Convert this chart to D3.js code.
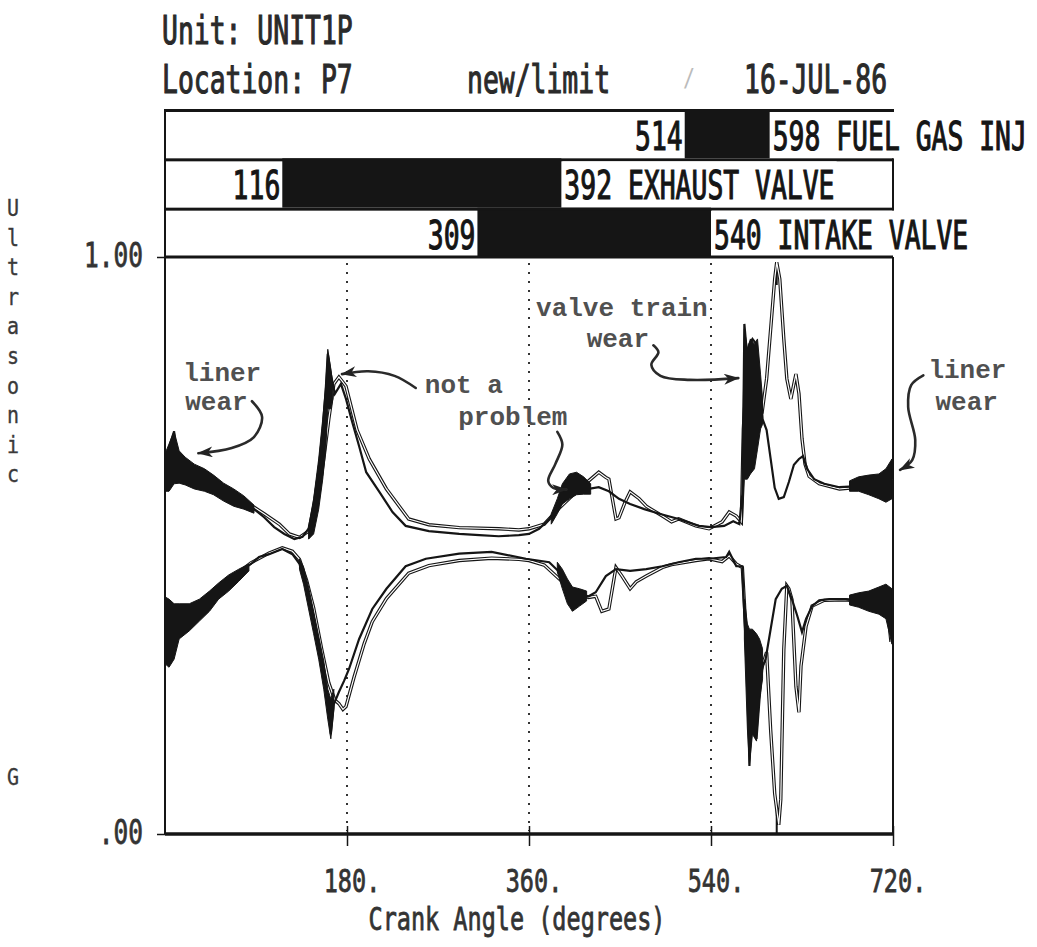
<!DOCTYPE html>
<html><head><meta charset="utf-8">
<script src="https://cdn.jsdelivr.net/npm/d3@7"></script>
<style>body{margin:0;background:#fff}svg{display:block}</style>
</head><body>
<svg id="chart" width="1037" height="947"></svg>
<script>
// ---------------- data ----------------
const headerLeft = ["Unit: UNIT1P", "Location: P7"];
const headerMid = "new/limit";
const headerDate = "16-JUL-86";
const yAxisTitle = "Ultrasonic";
const yAxisUnit = "G";
const xAxisTitle = "Crank Angle (degrees)";

const valveEvents = ["FUEL GAS INJ", "EXHAUST VALVE", "INTAKE VALVE"];
const eventStart = [514, 116, 309];
const eventEnd = [598, 392, 540];

const xTicks = [180, 360, 540, 720];
const xTickLabels = ["180.", "360.", "540.", "720."];
const yTicks = [0, 1];
const yTickLabels = [".00", "1.00"];
const guideAngles = [180, 360, 540];
const cursorAngle = 605;

// [crank angle, ultrasonic G]
const upperNew = [[0,0.633],[5,0.676],[9,0.698],[12,0.646],[20,0.636],[29,0.624],[39,0.615],[48,0.607],[58,0.594],[68,0.584],[78,0.575],[88,0.563],[98,0.549],[108,0.532],[118,0.520],[128,0.511],[136,0.515],[142,0.529],[147,0.572],[152,0.633],[156,0.702],[159,0.771],[161,0.832],[164,0.797],[168,0.763],[174,0.780],[179,0.754],[185,0.715],[192,0.672],[199,0.627],[212,0.593],[225,0.558],[238,0.534],[261,0.525],[291,0.520],[311,0.518],[330,0.516],[350,0.518],[360,0.520],[370,0.529],[380,0.546],[390,0.572],[400,0.598],[410,0.603],[419,0.598],[429,0.601],[439,0.594],[449,0.581],[460,0.572],[474,0.563],[489,0.555],[508,0.546],[528,0.534],[540,0.532],[553,0.534],[562,0.542],[568,0.537],[571,0.589],[572,0.719],[573,0.884],[576,0.823],[578,0.849],[581,0.858],[585,0.849],[588,0.789],[591,0.719],[595,0.700],[599,0.650],[603,0.600],[607,0.581],[612,0.584],[617,0.610],[622,0.640],[627,0.650],[631,0.655],[635,0.633],[642,0.615],[652,0.607],[667,0.601],[686,0.603],[701,0.607],[711,0.612],[716,0.620],[719,0.633]];

const upperLimit = [[0,0.636],[20,0.634],[34,0.619],[58,0.596],[78,0.578],[98,0.555],[113,0.537],[123,0.520],[133,0.514],[142,0.525],[150,0.563],[157,0.650],[162,0.719],[167,0.780],[172,0.792],[176,0.783],[179,0.776],[190,0.700],[202,0.650],[219,0.598],[241,0.546],[261,0.536],[291,0.531],[330,0.529],[350,0.527],[360,0.529],[375,0.537],[390,0.565],[405,0.590],[419,0.612],[429,0.627],[436,0.618],[439,0.615],[446,0.546],[449,0.548],[455,0.575],[460,0.593],[469,0.581],[476,0.568],[492,0.551],[501,0.541],[508,0.546],[525,0.534],[538,0.529],[551,0.541],[558,0.558],[565,0.551],[570,0.541],[572,0.702],[575,0.790],[580,0.780],[586,0.754],[591,0.737],[595,0.789],[599,0.875],[603,0.962],[605,0.991],[608,0.962],[612,0.858],[615,0.789],[619,0.754],[622,0.780],[624,0.797],[627,0.763],[630,0.685],[633,0.641],[637,0.620],[647,0.607],[667,0.598],[686,0.601],[706,0.603],[719,0.615]];

const lowerNew = [[0,0.381],[4,0.335],[6,0.345],[9,0.365],[14,0.373],[20,0.380],[27,0.378],[34,0.386],[44,0.407],[53,0.421],[60,0.437],[68,0.445],[76,0.459],[85,0.468],[93,0.480],[103,0.485],[116,0.494],[126,0.485],[133,0.468],[137,0.445],[142,0.407],[147,0.364],[152,0.321],[157,0.277],[162,0.225],[164,0.173],[167,0.225],[172,0.246],[177,0.265],[182,0.286],[192,0.338],[205,0.390],[219,0.425],[238,0.464],[258,0.477],[291,0.486],[323,0.489],[357,0.477],[380,0.471],[390,0.454],[400,0.412],[403,0.390],[412,0.412],[419,0.412],[426,0.419],[436,0.447],[446,0.459],[460,0.456],[476,0.459],[492,0.464],[508,0.471],[525,0.477],[538,0.477],[555,0.480],[558,0.489],[565,0.464],[571,0.464],[573,0.378],[576,0.269],[578,0.118],[581,0.234],[585,0.165],[588,0.234],[591,0.291],[594,0.303],[599,0.355],[604,0.407],[610,0.425],[615,0.430],[620,0.407],[625,0.380],[630,0.350],[634,0.373],[640,0.395],[647,0.405],[657,0.407],[673,0.407],[689,0.402],[703,0.407],[713,0.420],[716,0.400],[719,0.333]];

const lowerLimit = [[0,0.384],[20,0.382],[34,0.392],[53,0.425],[68,0.447],[85,0.470],[103,0.487],[116,0.496],[126,0.490],[133,0.476],[140,0.440],[147,0.392],[155,0.320],[162,0.262],[168,0.232],[172,0.226],[176,0.216],[179,0.221],[187,0.272],[197,0.330],[205,0.368],[219,0.408],[241,0.452],[261,0.465],[291,0.474],[323,0.478],[350,0.476],[360,0.474],[375,0.466],[390,0.442],[405,0.420],[419,0.410],[426,0.412],[432,0.386],[439,0.390],[446,0.462],[452,0.447],[460,0.425],[466,0.437],[476,0.447],[492,0.462],[501,0.467],[525,0.474],[538,0.477],[551,0.472],[558,0.482],[565,0.468],[571,0.462],[573,0.400],[576,0.300],[581,0.250],[586,0.262],[591,0.292],[595,0.315],[599,0.180],[603,0.070],[607,0.016],[609,0.060],[612,0.320],[615,0.430],[617,0.425],[620,0.407],[624,0.256],[627,0.211],[629,0.291],[634,0.360],[640,0.395],[652,0.405],[673,0.406],[689,0.403],[703,0.406],[713,0.418],[718,0.333]];

// noisy (solid black) stretches of the new trace: [angle, low, high]
const upperBands = [
  [[0,0.594,0.659],[4,0.594,0.676],[9,0.607,0.698],[14,0.608,0.664],[20,0.605,0.653],[29,0.598,0.641],[39,0.594,0.633],[48,0.588,0.622],[58,0.577,0.608],[68,0.568,0.598],[78,0.563,0.586],[88,0.556,0.570]],
  [[142,0.511,0.532],[147,0.520,0.581],[152,0.563,0.650],[156,0.615,0.719],[159,0.667,0.780],[161,0.737,0.840],[164,0.737,0.806],[166,0.754,0.780]],
  [[382,0.537,0.555],[388,0.555,0.581],[393,0.572,0.607],[400,0.581,0.624],[407,0.588,0.627],[414,0.589,0.619],[421,0.589,0.607]],
  [[571,0.537,0.633],[573,0.615,0.875],[576,0.615,0.841],[579,0.624,0.858],[583,0.633,0.849],[586,0.667,0.858],[589,0.702,0.797],[591,0.710,0.754]],
  [[677,0.594,0.612],[686,0.594,0.619],[696,0.588,0.622],[706,0.581,0.624],[713,0.575,0.633],[719,0.581,0.650]]
];
const lowerBands = [
  [[0,0.295,0.411],[4,0.289,0.407],[9,0.303,0.399],[14,0.338,0.399],[24,0.352,0.399],[34,0.369,0.407],[44,0.386,0.421],[53,0.407,0.435],[63,0.421,0.449],[73,0.438,0.459],[83,0.456,0.468]],
  [[133,0.459,0.477],[137,0.433,0.463],[142,0.390,0.428],[147,0.347,0.386],[152,0.303,0.343],[157,0.251,0.300],[161,0.199,0.251],[164,0.165,0.234],[167,0.217,0.251]],
  [[388,0.454,0.471],[393,0.425,0.459],[398,0.399,0.442],[403,0.386,0.428],[410,0.395,0.425],[417,0.404,0.421]],
  [[573,0.338,0.407],[576,0.182,0.364],[578,0.121,0.355],[581,0.173,0.355],[585,0.161,0.347],[588,0.234,0.338],[591,0.269,0.321]],
  [[677,0.397,0.414],[686,0.393,0.418],[696,0.386,0.421],[706,0.381,0.428],[713,0.373,0.433],[719,0.329,0.425]]
];

// hand-written notes, anchored in data units [angle, value]
const noteText = [["liner",18,0.785],["wear",20,0.735],["not a",257,0.764],["problem",290,0.709],["valve train",367,0.898],["wear",417,0.844],["liner",755,0.790],["wear",762,0.735]];
const noteArrows = [
  [[86,0.750],[96,0.723],[88,0.688],[66,0.669],[33,0.660]],
  [[248,0.773],[227,0.794],[201,0.802],[175,0.797]],
  [[388,0.697],[393,0.675],[386,0.641],[379,0.612],[384,0.600],[397,0.597]],
  [[483,0.847],[488,0.835],[481,0.813],[490,0.794],[519,0.787],[567,0.790]],
  [[750,0.795],[738,0.778],[735,0.740],[742,0.683],[739,0.648],[727,0.631]]
];

// ---------------- drawing ----------------
const svg = d3.select("#chart");
const INK = "#151515";
const MONO = "'DejaVu Sans Mono', monospace";
const TYPE = "'Liberation Mono', 'Courier New', monospace";

const x = d3.scaleLinear().domain([0, 720]).range([165, 893]);
const y = d3.scaleLinear().domain([0, 1]).range([834, 257]);

function mono(g, px, py, str, size, sy, anchor, fill, sw) {
  const c = fill || "#2a2a2a";
  return g.append("text")
    .attr("transform", `translate(${px},${py}) scale(1,${sy})`)
    .attr("text-anchor", anchor || "start")
    .attr("font-family", MONO).attr("font-size", size)
    .attr("fill", c).attr("stroke", c).attr("stroke-width", sw === undefined ? 0.8 : sw)
    .text(str);
}

// header
const hdr = svg.append("g");
mono(hdr, 162, 44, headerLeft[0], 26.4, 1.45);
mono(hdr, 162, 93, headerLeft[1], 26.4, 1.45);
mono(hdr, 467, 93, headerMid, 26.4, 1.45);
mono(hdr, 744, 93, headerDate, 26.4, 1.45);
mono(hdr, 683, 86, "/", 20, 1.2, "start", "#bbb", 0);

// valve timing bars
const rows = d3.scaleBand().domain(valveEvents).range([109, 257]);
svg.append("line").attr("x1", x(720)).attr("x2", x(720)).attr("y1", 109).attr("y2", 257)
  .attr("stroke", INK).attr("stroke-width", 2);
const bars = svg.append("g");
valveEvents.forEach((name, i) => {
  const top = rows(name), h = rows.bandwidth();
  bars.append("rect").attr("x", x(eventStart[i])).attr("y", top)
    .attr("width", x(eventEnd[i]) - x(eventStart[i])).attr("height", h).attr("fill", INK);
  bars.append("rect").attr("x", x(0)).attr("y", top).attr("width", x(720) - x(0)).attr("height", 3).attr("fill", INK);
  mono(bars, x(eventStart[i]) - 2, top + 41, String(eventStart[i]), 26.4, 1.45, "end", INK);
  const lbl = `${eventEnd[i]} ${name}`;
  const w = lbl.length * 15.9 + 4;
  bars.append("rect").attr("x", x(eventEnd[i]) + 1).attr("y", top + 3)
    .attr("width", w).attr("height", h - 3).attr("fill", "#fff");
  mono(bars, x(eventEnd[i]) + 3, top + 41, lbl, 26.4, 1.45, "start", INK);
});
bars.append("line").attr("x1", x(0)).attr("x2", x(0)).attr("y1", 109).attr("y2", 257).attr("stroke", INK).attr("stroke-width", 2);

// plot frame
const frame = svg.append("g");
frame.append("line").attr("x1", x(0)).attr("x2", x(720)).attr("y1", y(1)).attr("y2", y(1)).attr("stroke", INK).attr("stroke-width", 3);
frame.append("line").attr("x1", x(0)).attr("x2", x(0)).attr("y1", y(1)).attr("y2", y(0)).attr("stroke", INK).attr("stroke-width", 2);
frame.append("line").attr("x1", x(720)).attr("x2", x(720)).attr("y1", y(1)).attr("y2", y(0)).attr("stroke", INK).attr("stroke-width", 2);

// dotted guides
svg.append("g").selectAll("line").data(guideAngles).join("line")
  .attr("x1", d => x(d)).attr("x2", d => x(d)).attr("y1", y(1) + 6).attr("y2", y(0) - 3)
  .attr("stroke", "#333").attr("stroke-width", 2).attr("stroke-dasharray", "2,7");

// cursor marks
svg.append("line").attr("x1", x(cursorAngle)).attr("x2", x(cursorAngle)).attr("y1", y(1) + 5).attr("y2", y(1) + 28).attr("stroke", INK).attr("stroke-width", 2);
svg.append("line").attr("x1", x(cursorAngle)).attr("x2", x(cursorAngle)).attr("y1", y(0) - 24).attr("y2", y(0)).attr("stroke", INK).attr("stroke-width", 2);

// traces
const line = d3.line().x(d => x(d[0])).y(d => y(d[1]));
const area = d3.area().x(d => x(d[0])).y0(d => y(d[1])).y1(d => y(d[2]));
const traces = svg.append("g");
[upperLimit, lowerLimit].forEach(s => {
  traces.append("path").attr("d", line(s)).attr("fill", "none").attr("stroke", INK).attr("stroke-width", 3.4);
  traces.append("path").attr("d", line(s)).attr("fill", "none").attr("stroke", "#fff").attr("stroke-width", 1.2);
});
[upperNew, lowerNew].forEach(s => {
  traces.append("path").attr("d", line(s)).attr("fill", "none").attr("stroke", INK).attr("stroke-width", 2.2);
});
[...upperBands, ...lowerBands].forEach(seg => {
  traces.append("path").attr("d", area(seg)).attr("fill", INK).attr("stroke", INK).attr("stroke-width", 1);
});

// x axis
const xAxis = svg.append("g").attr("transform", `translate(0,${y(0)})`)
  .call(d3.axisBottom(x).tickValues(xTicks).tickSize(12).tickFormat(() => ""));
xAxis.select(".domain").attr("stroke", INK).attr("stroke-width", 3.5).attr("d", `M${x(0)},0H${x(720)}`);
xAxis.selectAll(".tick line").attr("stroke", INK).attr("stroke-width", 1.5).attr("y1", -8);
xTicks.forEach((t, i) => mono(svg, x(t) + 5, 892, xTickLabels[i], 23.5, 1.35, "middle", "#333", 0.6));
mono(svg, 517, 930, xAxisTitle, 23.5, 1.35, "middle", "#333", 0.6);

// y axis
const yAxis = svg.append("g").attr("transform", `translate(${x(0)},0)`)
  .call(d3.axisLeft(y).tickValues(yTicks).tickSize(8).tickFormat(() => ""));
yAxis.select(".domain").remove();
yAxis.selectAll(".tick line").attr("stroke", INK).attr("stroke-width", 1.5);
yTicks.forEach((t, i) => mono(svg, 143, y(t) + 10, yTickLabels[i], 24.5, 1.35, "end", "#333", 0.6));

// vertical axis title (stacked letters)
yAxisTitle.split("").forEach((ch, i) => mono(svg, 13, 216 + i * 29.6, ch, 20, 1.18, "middle", "#3a3a3a", 0.3));
mono(svg, 13, 785, yAxisUnit, 20, 1.18, "middle", "#3a3a3a", 0.3);

// annotations
const notes = svg.append("g");
noteText.forEach(([t, a, v]) => {
  notes.append("text").attr("x", x(a)).attr("y", y(v)).attr("font-family", TYPE)
    .attr("font-size", 26).attr("font-weight", "bold").attr("fill", "#505050").text(t);
});
svg.append("defs").append("marker").attr("id", "head")
  .attr("viewBox", "0 0 14 10").attr("markerUnits", "userSpaceOnUse")
  .attr("markerWidth", 16).attr("markerHeight", 11).attr("refX", 13).attr("refY", 5).attr("orient", "auto")
  .append("path").attr("d", "M0,0L14,5L0,10L4,5Z").attr("fill", "#222");
const arrowLine = d3.line().x(d => x(d[0])).y(d => y(d[1])).curve(d3.curveCatmullRom.alpha(0.5));
noteArrows.forEach(pts => {
  notes.append("path").attr("d", arrowLine(pts)).attr("fill", "none").attr("stroke", "#2a2a2a")
    .attr("stroke-width", 2.6).attr("stroke-linecap", "round").attr("marker-end", "url(#head)");
});
</script>
</body></html>
